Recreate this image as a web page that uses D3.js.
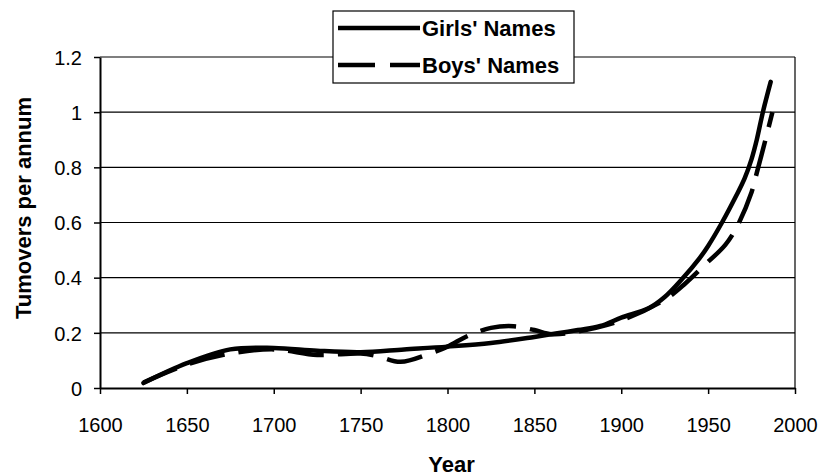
<!DOCTYPE html>
<meta charset="utf-8" />
<style>
  body {
    margin: 0;
    background: #fff;
  }
  svg {
    font-family: "Liberation Sans", Arial, sans-serif;
  }
  .title {
    font-size: 22px;
    font-weight: bold;
  }
  .legend {
    font-size: 22px;
    font-weight: bold;
  }
</style>
<body>
  <script src="https://d3js.org/d3.v7.min.js" charset="utf-8"></script>
  <script>
    // values
    var girlsYears = [1625, 1650, 1675, 1700, 1725, 1750, 1775, 1800, 1825, 1850, 1875, 1888, 1900, 1916, 1925, 1935, 1945, 1950, 1958, 1966, 1971, 1975, 1978, 1981.5, 1986];
    var girlsValues = [0.018, 0.09, 0.14, 0.145, 0.135, 0.13, 0.14, 0.15, 0.163, 0.185, 0.21, 0.225, 0.255, 0.29, 0.33, 0.395, 0.47, 0.515, 0.6, 0.695, 0.76, 0.83, 0.9, 1.0, 1.11];

    var boysYears = [1625, 1650, 1675, 1700, 1725, 1750, 1760, 1773, 1790, 1800, 1812, 1825, 1838, 1850, 1860, 1875, 1900, 1925, 1937, 1947, 1960, 1967, 1975, 1978, 1983, 1987];
    var boysValues = [0.02, 0.085, 0.125, 0.14, 0.12, 0.125, 0.115, 0.095, 0.125, 0.15, 0.19, 0.218, 0.224, 0.21, 0.195, 0.205, 0.245, 0.32, 0.38, 0.44, 0.52, 0.59, 0.71, 0.78, 0.9, 1.0];

    var xTicks = [1600, 1650, 1700, 1750, 1800, 1850, 1900, 1950, 2000];
    var yTicks = [0, 0.2, 0.4, 0.6, 0.8, 1, 1.2];

    var seriesNames = ["Girls' Names", "Boys' Names"];

    var width = 821,
      height = 476;
    var plotLeft = 100,
      plotRight = 795,
      plotTop = 57,
      plotBottom = 388;

    var svg = d3
      .select("body")
      .append("svg")
      .attr("width", width)
      .attr("height", height);

    var x = d3.scaleLinear().domain([1600, 2000]).range([plotLeft, plotRight]);
    var y = d3.scaleLinear().domain([0, 1.2]).range([plotBottom, plotTop]);

    //gridlines
    svg
      .selectAll(".grid")
      .data(yTicks.filter(d => d > 0))
      .enter()
      .append("line")
      .attr("class", "grid")
      .attr("x1", plotLeft)
      .attr("x2", plotRight)
      .attr("y1", d => y(d))
      .attr("y2", d => y(d))
      .style("stroke", "#000")
      .style("stroke-width", 1.2);

    //right border
    svg
      .append("line")
      .attr("x1", plotRight)
      .attr("x2", plotRight)
      .attr("y1", plotTop)
      .attr("y2", plotBottom)
      .style("stroke", "#000")
      .style("stroke-width", 1.2);

    //axes
    var xAxis = svg
      .append("g")
      .attr("transform", "translate(0," + plotBottom + ")")
      .call(d3.axisBottom(x).tickValues(xTicks).tickFormat(d3.format("d")).tickSize(6).tickSizeOuter(0).tickPadding(24));
    var yAxis = svg
      .append("g")
      .attr("transform", "translate(" + plotLeft + ",0)")
      .call(d3.axisLeft(y).tickValues(yTicks).tickFormat(d3.format("")).tickSize(6).tickSizeOuter(0).tickPadding(12));

    [xAxis, yAxis].forEach(function(g) {
      g.select(".domain").style("stroke", "#000").style("stroke-width", 2);
      g.selectAll(".tick line").style("stroke", "#000").style("stroke-width", 1.5);
      g.selectAll(".tick text")
        .style("font-family", "'Liberation Sans', Arial, sans-serif")
        .style("font-size", "20px")
        .style("fill", "#000");
    });
    yAxis.selectAll(".tick text").attr("dy", "0.36em");

    //lines
    var line = d3
      .line()
      .x(d => x(d[0]))
      .y(d => y(d[1]))
      .curve(d3.curveCatmullRom.alpha(0.5));

    svg
      .append("path")
      .datum(d3.zip(boysYears, boysValues))
      .attr("d", line)
      .style("fill", "none")
      .style("stroke", "#000")
      .style("stroke-width", 4.5)
      .style("stroke-dasharray", "36,14");

    svg
      .append("path")
      .datum(d3.zip(girlsYears, girlsValues))
      .attr("d", line)
      .style("fill", "none")
      .style("stroke", "#000")
      .style("stroke-width", 4.5)
      .style("stroke-linecap", "round");

    //axis titles
    svg
      .append("text")
      .attr("class", "title")
      .attr("x", (plotLeft + plotRight) / 2 + 4)
      .attr("y", 472)
      .attr("text-anchor", "middle")
      .text("Year");

    svg
      .append("text")
      .attr("class", "title")
      .attr("transform", "translate(31,208) rotate(-90)")
      .attr("text-anchor", "middle")
      .text("Tumovers per annum");

    //legend
    var legendBox = svg.append("g");
    legendBox
      .append("rect")
      .attr("x", 333)
      .attr("y", 11)
      .attr("width", 241)
      .attr("height", 72)
      .style("fill", "#fff")
      .style("stroke", "#000")
      .style("stroke-width", 1.2);

    var legend = legendBox
      .selectAll(".legend")
      .data(seriesNames)
      .enter()
      .append("g")
      .attr("class", "legend")
      .attr("transform", (d, i) => "translate(338," + (28 + 37 * i) + ")");
    legend
      .append("line")
      .attr("x1", 0)
      .attr("x2", 82)
      .style("stroke", "#000")
      .style("stroke-width", 4.5)
      .style("stroke-dasharray", (d, i) => (i === 1 ? "37,15" : null));
    legend
      .append("text")
      .attr("x", 84)
      .attr("y", 8)
      .text(d => d);
  </script>
</body>
